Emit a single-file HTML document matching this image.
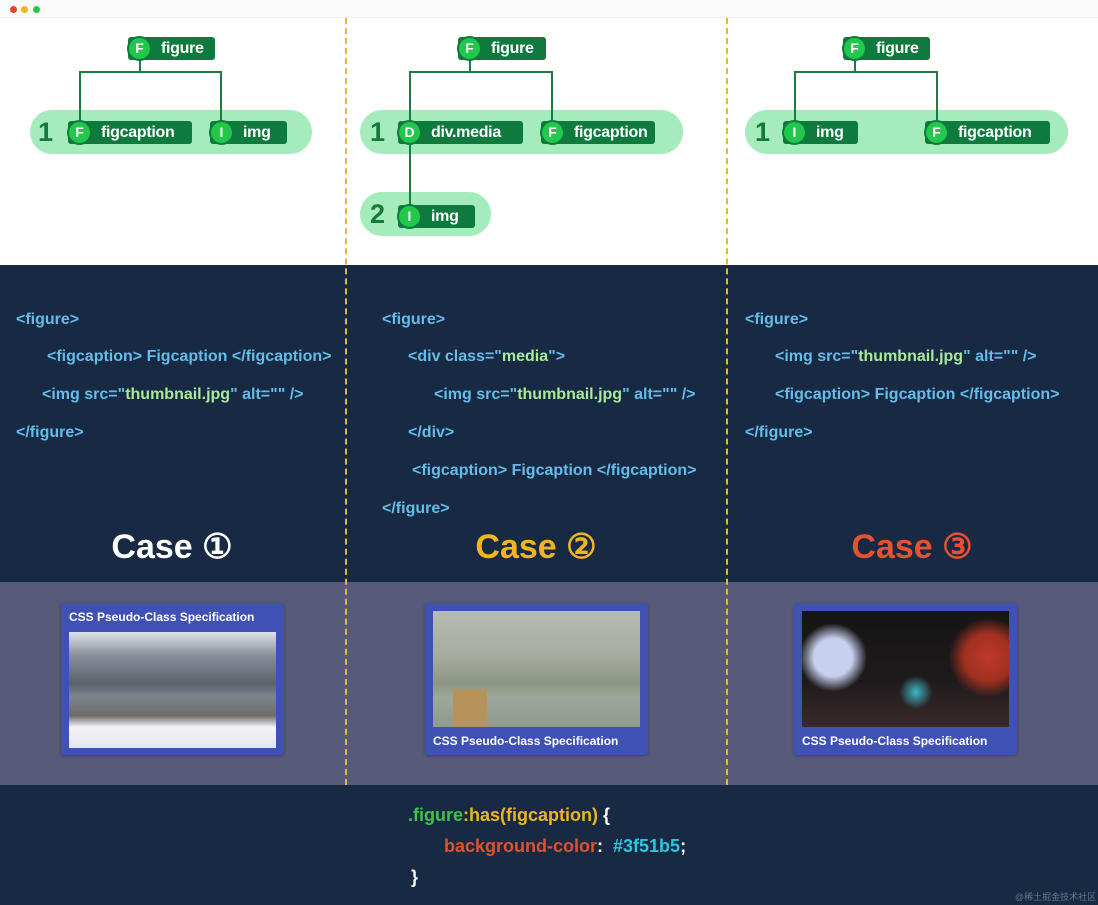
<!DOCTYPE html>
<html><head><meta charset="utf-8"><style>
*{margin:0;padding:0;box-sizing:border-box}
body{width:1098px;height:905px;position:relative;overflow:hidden;background:#fff;font-family:"Liberation Sans",sans-serif}
.a{position:absolute}
.pill{position:absolute;background:#a4ecbb;border-radius:22px;height:44px}
.rn{position:absolute;font-size:27px;color:#137a3c;font-weight:bold;line-height:30px}
.node{position:absolute;height:23px;background:#0f7a3d;border-radius:3px;color:#fff;font-size:16px;line-height:23px;font-weight:bold;letter-spacing:-0.3px;white-space:nowrap}
.node .c{position:absolute;left:-1px;top:-1px;width:25px;height:25px;border-radius:50%;background:#22c84c;border:2px solid #0f7a3d;color:#fff;font-size:14px;text-align:center;line-height:21px;letter-spacing:0}
.node span.t{position:absolute;left:33px;top:0}
.ln{position:absolute;background:#1d7a42}
.code{position:absolute;font-size:16px;font-weight:bold;color:#64bde9;white-space:pre;line-height:20px}
.s{color:#a8ea97}
.case{position:absolute;font-size:34px;font-weight:bold;width:200px;text-align:center;line-height:40px}
.card{position:absolute;width:223px;height:152px;background:#3f51b5;border-radius:3px;box-shadow:0 1px 3px rgba(0,0,0,.3)}
.cap{position:absolute;left:8px;color:#fff;font-size:12px;font-weight:bold}
.img{position:absolute;left:8px;width:207px;height:116px}
.dash{position:absolute;top:18px;height:767px;width:0;border-left:2px dashed #e9b536}
</style></head><body>
<div class="a" style="left:0;top:0;width:1098px;height:18px;background:#fafafa;border-bottom:1px solid #eee"></div>
<div class="a" style="left:10px;top:6px;width:7px;height:7px;border-radius:50%;background:#e5412e"></div>
<div class="a" style="left:21px;top:6px;width:7px;height:7px;border-radius:50%;background:#f2b521"></div>
<div class="a" style="left:33px;top:6px;width:7px;height:7px;border-radius:50%;background:#27c840"></div>

<div class="a" style="left:0;top:265px;width:1098px;height:317px;background:#172943"></div>
<div class="a" style="left:0;top:582px;width:1098px;height:203px;background:#585a7a"></div>
<div class="a" style="left:0;top:785px;width:1098px;height:120px;background:#172943"></div>

<!-- Case 1 tree -->
<div class="pill" style="left:30px;top:110px;width:282px"></div>
<div class="rn" style="left:38px;top:117px">1</div>
<div class="ln" style="left:139px;top:58px;width:2px;height:14px"></div>
<div class="ln" style="left:79px;top:71px;width:143px;height:2px"></div>
<div class="ln" style="left:79px;top:71px;width:2px;height:52px"></div>
<div class="ln" style="left:220px;top:71px;width:2px;height:52px"></div>
<div class="node" style="left:128px;top:37px;width:87px"><div class="c">F</div><span class="t">figure</span></div>
<div class="node" style="left:68px;top:121px;width:124px"><div class="c">F</div><span class="t">figcaption</span></div>
<div class="node" style="left:210px;top:121px;width:77px"><div class="c">I</div><span class="t">img</span></div>

<!-- Case 2 tree -->
<div class="pill" style="left:360px;top:110px;width:323px"></div>
<div class="pill" style="left:360px;top:192px;width:131px"></div>
<div class="rn" style="left:370px;top:117px">1</div>
<div class="rn" style="left:370px;top:199px">2</div>
<div class="ln" style="left:469px;top:58px;width:2px;height:14px"></div>
<div class="ln" style="left:409px;top:71px;width:143px;height:2px"></div>
<div class="ln" style="left:409px;top:71px;width:2px;height:140px"></div>
<div class="ln" style="left:551px;top:71px;width:2px;height:52px"></div>
<div class="node" style="left:458px;top:37px;width:88px"><div class="c">F</div><span class="t">figure</span></div>
<div class="node" style="left:398px;top:121px;width:125px"><div class="c">D</div><span class="t">div.media</span></div>
<div class="node" style="left:541px;top:121px;width:114px"><div class="c">F</div><span class="t">figcaption</span></div>
<div class="node" style="left:398px;top:205px;width:77px"><div class="c">I</div><span class="t">img</span></div>

<!-- Case 3 tree -->
<div class="pill" style="left:745px;top:110px;width:323px"></div>
<div class="rn" style="left:755px;top:117px">1</div>
<div class="ln" style="left:854px;top:58px;width:2px;height:14px"></div>
<div class="ln" style="left:794px;top:71px;width:144px;height:2px"></div>
<div class="ln" style="left:794px;top:71px;width:2px;height:52px"></div>
<div class="ln" style="left:936px;top:71px;width:2px;height:52px"></div>
<div class="node" style="left:843px;top:37px;width:87px"><div class="c">F</div><span class="t">figure</span></div>
<div class="node" style="left:783px;top:121px;width:75px"><div class="c">I</div><span class="t">img</span></div>
<div class="node" style="left:925px;top:121px;width:125px"><div class="c">F</div><span class="t">figcaption</span></div>

<!-- code -->
<div class="code" style="left:16px;top:310px">&lt;figure&gt;</div>
<div class="code" style="left:47px;top:347px">&lt;figcaption&gt; Figcaption &lt;/figcaption&gt;</div>
<div class="code" style="left:42px;top:385px">&lt;img src="<span class="s">thumbnail.jpg</span>" alt="" /&gt;</div>
<div class="code" style="left:16px;top:423px">&lt;/figure&gt;</div>

<div class="code" style="left:382px;top:310px">&lt;figure&gt;</div>
<div class="code" style="left:408px;top:347px">&lt;div class="<span class="s">media</span>"&gt;</div>
<div class="code" style="left:434px;top:385px">&lt;img src="<span class="s">thumbnail.jpg</span>" alt="" /&gt;</div>
<div class="code" style="left:408px;top:423px">&lt;/div&gt;</div>
<div class="code" style="left:412px;top:461px">&lt;figcaption&gt; Figcaption &lt;/figcaption&gt;</div>
<div class="code" style="left:382px;top:499px">&lt;/figure&gt;</div>

<div class="code" style="left:745px;top:310px">&lt;figure&gt;</div>
<div class="code" style="left:775px;top:347px">&lt;img src="<span class="s">thumbnail.jpg</span>" alt="" /&gt;</div>
<div class="code" style="left:775px;top:385px">&lt;figcaption&gt; Figcaption &lt;/figcaption&gt;</div>
<div class="code" style="left:745px;top:423px">&lt;/figure&gt;</div>

<div class="case" style="left:72px;top:527px;color:#fff">Case ①</div>
<div class="case" style="left:436px;top:527px;color:#f2b51b">Case ②</div>
<div class="case" style="left:812px;top:527px;color:#e8502f">Case ③</div>

<!-- cards -->
<div class="card" style="left:61px;top:603px">
 <div class="cap" style="top:7px">CSS Pseudo-Class Specification</div>
 <div class="img" style="top:29px;background:linear-gradient(180deg,#dfe3ea 0%,#8a909b 20%,#5b616b 45%,#7d8590 55%,#6d6b68 72%,#f2f3f6 82%,#e6e8ee 100%)"></div>
</div>
<div class="card" style="left:425px;top:603px">
 <div class="img" style="top:8px;background:linear-gradient(180deg,#b8bdb4 0%,#a5ab9f 40%,#8d9683 62%,#9ea89a 75%,#8f9a8d 100%)"></div>
 <div class="a" style="left:28px;top:86px;width:34px;height:38px;background:#b5935a"></div>
 <div class="cap" style="top:131px">CSS Pseudo-Class Specification</div>
</div>
<div class="card" style="left:794px;top:603px">
 <div class="img" style="top:8px;background:radial-gradient(circle at 15% 40%,#c8d0f0 0,#c8d0f0 10%,transparent 18%),radial-gradient(circle at 90% 40%,#c0392b 0,#a03020 12%,transparent 20%),radial-gradient(circle at 55% 70%,#3fb8c8 0,transparent 12%),linear-gradient(180deg,#151515,#1e1a1c 60%,#3a2a2a)"></div>
 <div class="cap" style="top:131px">CSS Pseudo-Class Specification</div>
</div>

<div class="dash" style="left:345px"></div>
<div class="dash" style="left:726px"></div>

<!-- bottom code -->
<div class="code" style="left:408px;top:804px;font-size:18px;line-height:22px"><span style="color:#3fc24a">.figure</span><span style="color:#f1b428">:has(figcaption)</span><span style="color:#fff"> {</span></div>
<div class="code" style="left:444px;top:835px;font-size:18px;line-height:22px"><span style="color:#e0522d">background-color</span><span style="color:#fff">: </span><span style="color:#27c8e0"> #3f51b5</span><span style="color:#fff">;</span></div>
<div class="code" style="left:411px;top:866px;font-size:18px;line-height:22px;color:#fff">}</div>
<div class="a" style="left:1015px;top:890px;font-size:9px;white-space:nowrap;color:#6a7488;font-family:'Liberation Sans','Noto Sans CJK SC',sans-serif">@稀土掘金技术社区</div>
</body></html>
